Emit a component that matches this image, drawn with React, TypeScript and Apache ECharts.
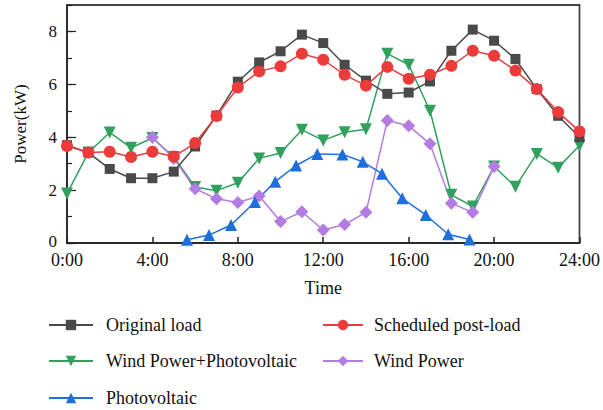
import React, { useEffect, useRef } from "react";
import * as echarts from "echarts";

const hours = [0,1,2,3,4,5,6,7,8,9,10,11,12,13,14,15,16,17,18,19,20,21,22,23,24];
const originalLoad = [3.7, 3.42, 2.8, 2.45, 2.45, 2.7, 3.65, 4.82, 6.1, 6.83, 7.25, 7.88, 7.56, 6.74, 6.14, 5.64, 5.69, 6.11, 7.27, 8.07, 7.65, 6.96, 5.82, 4.81, 4.0];
const scheduledLoad = [3.67, 3.42, 3.45, 3.25, 3.45, 3.27, 3.78, 4.8, 5.88, 6.49, 6.68, 7.16, 6.93, 6.36, 5.95, 6.66, 6.21, 6.36, 6.7, 7.27, 7.08, 6.52, 5.82, 4.95, 4.22];
const windPv = [1.87, 3.42, 4.18, 3.6, 3.97, 3.25, 2.12, 1.98, 2.28, 3.2, 3.4, 4.28, 3.88, 4.19, 4.3, 7.16, 6.74, 5.0, 1.82, 1.38, 2.89, 2.13, 3.37, 2.85, 3.69];
const windHours = [4,5,6,7,8,9,10,11,12,13,14,15,16,17,18,19,20];
const windPower = [4.0, 3.2, 2.05, 1.67, 1.53, 1.78, 0.81, 1.18, 0.49, 0.7, 1.16, 4.63, 4.43, 3.75, 1.5, 1.16, 2.89];
const pvHours = [5.62, 6.65, 7.68, 8.8, 9.75, 10.73, 11.72, 12.9, 13.85, 14.75, 15.7, 16.8, 17.85, 18.85];
const pvPower = [0.12, 0.3, 0.68, 1.55, 2.32, 2.93, 3.37, 3.35, 3.07, 2.62, 1.69, 1.06, 0.33, 0.13];

const names = ["Original load", "Scheduled post-load", "Wind Power+Photovoltaic", "Wind Power", "Photovoltaic"];

const FONT = "Times New Roman, Liberation Serif, serif";

function pairs(xs: number[], ys: number[]) {
  return xs.map((x, i) => [x, ys[i]]);
}

export default function App() {
  const ref = useRef<HTMLDivElement>(null);
  useEffect(() => {
    if (!ref.current) return;
    const chart = echarts.init(ref.current, null, { renderer: "svg" });
    const legendPos = [
      { left: 48, top: 316, w: 44, pad: 8 },
      { left: 322, top: 316, w: 40, pad: 6 },
      { left: 48, top: 352, w: 44, pad: 8 },
      { left: 322, top: 352, w: 40, pad: 6 },
      { left: 48, top: 389, w: 44, pad: 8 },
    ];
    const legends = names.map((n, i) => ({
      data: [n],
      left: legendPos[i].left,
      top: legendPos[i].top,
      itemWidth: legendPos[i].w,
      itemHeight: 13,
      itemGap: 0,
      padding: 0,
      textStyle: { fontFamily: FONT, fontSize: 18, color: "#111", padding: [0, 0, 0, legendPos[i].pad] },
      selectedMode: false,
    }));
    const lineStyle = (c: string) => ({ color: c, width: 1.5 });
    chart.setOption({
      animation: false,
      backgroundColor: "#fff",
      textStyle: { fontFamily: FONT },
      legend: legends,
      grid: {
        left: 67, right: 23, top: 5, bottom: 167,
        show: true, borderColor: "#444", borderWidth: 1.8, backgroundColor: "transparent",
      },
      xAxis: [
        {
          type: "value", min: 0, max: 24, interval: 4,
          name: "Time", nameLocation: "middle", nameGap: 36,
          nameTextStyle: { fontFamily: FONT, fontSize: 18, color: "#111" },
          axisLine: { lineStyle: { color: "#222", width: 1.5 } },
          axisTick: { inside: true, length: 6, lineStyle: { color: "#222", width: 1.5 } },
          axisLabel: {
            fontFamily: FONT, fontSize: 18, lineHeight: 16, color: "#111", margin: 9,
            formatter: (v: number) => `${v}:00`,
          },
          splitLine: { show: false },
        },
      ],
      yAxis: [
        {
          type: "value", min: 0, max: 9, interval: 2,
          name: "Power(kW)", nameLocation: "middle", nameGap: 38,
          nameTextStyle: { fontFamily: FONT, fontSize: 17, color: "#111" },
          axisLine: { show: true, lineStyle: { color: "#222", width: 1.5 } },
          axisTick: { inside: true, length: 9, lineStyle: { color: "#222", width: 1.2 } },
          axisLabel: {
            fontFamily: FONT, fontSize: 17, lineHeight: 13, color: "#111", margin: 10, showMaxLabel: false,
            formatter: (v: number) => (v === 0 ? "{z|0}" : String(v)),
            rich: { z: { fontFamily: FONT, fontSize: 17, lineHeight: 13, color: "#111", padding: [0, 0, 4, 0] } },
          },
          splitLine: { show: false },
        },
        {
          type: "value", min: 0, max: 9, interval: 1, position: "left",
          axisLine: { show: false },
          axisTick: { show: true, inside: true, length: 5, lineStyle: { color: "#222", width: 1.2 } },
          axisLabel: { show: false },
          splitLine: { show: false },
        },
      ],
      series: [
        {
          name: names[0], type: "line", data: pairs(hours, originalLoad),
          symbol: "rect", symbolSize: 10, itemStyle: { color: "#4a4a4a" }, lineStyle: lineStyle("#4a4a4a"), z: 3,
        },
        {
          name: names[1], type: "line", data: pairs(hours, scheduledLoad),
          symbol: "circle", symbolSize: 12, itemStyle: { color: "#ec3b3b" }, lineStyle: lineStyle("#ec3b3b"), z: 4,
        },
        {
          name: names[2], type: "line", data: pairs(hours, windPv),
          symbol: "triangle", symbolRotate: 180, symbolSize: 12, itemStyle: { color: "#30a05c" }, lineStyle: lineStyle("#30a05c"), z: 2,
        },
        {
          name: names[3], type: "line", data: pairs(windHours, windPower),
          symbol: "diamond", symbolSize: 13, itemStyle: { color: "#b47be2" }, lineStyle: lineStyle("#b47be2"), z: 2,
        },
        {
          name: names[4], type: "line", data: pairs(pvHours, pvPower),
          symbol: "triangle", symbolSize: 12, itemStyle: { color: "#1e6fdc" }, lineStyle: lineStyle("#1e6fdc"), z: 2,
        },
      ],
    });
    return () => chart.dispose();
  }, []);
  return <div ref={ref} style={{ position: "fixed", left: 0, top: 0, width: 603, height: 410 }} />;
}
